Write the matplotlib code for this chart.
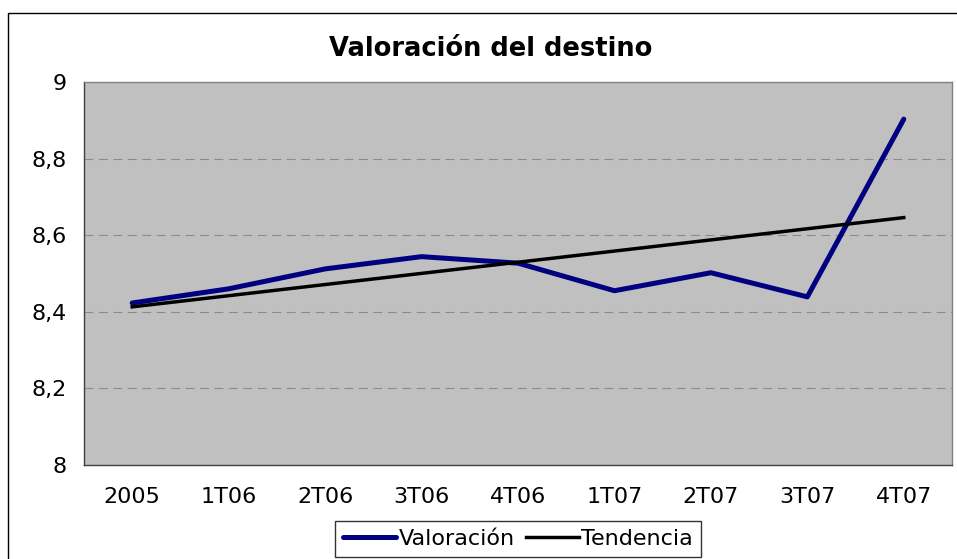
import numpy as np
import matplotlib
matplotlib.use("Agg")
import matplotlib.pyplot as plt
from matplotlib.patches import Rectangle
from matplotlib.ticker import FuncFormatter

categories = ["2005", "1T06", "2T06", "3T06", "4T06", "1T07", "2T07", "3T07", "4T07"]
valoracion = [8.423, 8.460, 8.512, 8.544, 8.527, 8.455, 8.502, 8.439, 8.903]
title = "Valoración del destino"
y_ticks = [8.0, 8.2, 8.4, 8.6, 8.8, 9.0]

W, H = 957, 559
fig = plt.figure(figsize=(W / 100, H / 100), dpi=100)
plt.rcParams['font.family'] = ['DejaVu Sans']

# outer chart border
fig.patches.append(Rectangle((8 / W, 0 - 1 / H), (W + 5) / W, (H - 13) / H + 1 / H,
                             transform=fig.transFigure, fill=False,
                             edgecolor="black", linewidth=1.0, zorder=0))

left, right, top, bottom = 84, 952, 82, 465
ax = fig.add_axes([left / W, 1 - bottom / H, (right - left) / W, (bottom - top) / H])
ax.set_facecolor("#c0c0c0")

x = np.arange(len(categories))
trend_coef = np.polyfit(x, valoracion, 1)
tendencia = np.polyval(trend_coef, x)

ax.plot(x, valoracion, color="#000080", linewidth=3.6, solid_capstyle="round",
        solid_joinstyle="round", label="Valoración", zorder=3)
ax.plot(x, tendencia, color="black", linewidth=2.5, label="Tendencia", zorder=4)

ax.set_xlim(-0.5, len(categories) - 0.5)
ax.set_ylim(8, 9)
ax.set_yticks(y_ticks)
ax.yaxis.set_major_formatter(FuncFormatter(lambda v, p: (f"{v:.1f}".rstrip("0").rstrip(".")).replace(".", ",")))
ax.set_xticks(x)
ax.set_xticklabels(categories)
ax.tick_params(axis="both", length=0, labelsize=16, colors="black")
ax.tick_params(axis="x", pad=15.5)
ax.tick_params(axis="y", pad=12.5)

for v in y_ticks[1:-1]:
    ax.axhline(v, color="#8a8a8a", linewidth=0.8, linestyle=(0, (8, 5)), zorder=1)

for s in ["top", "right"]:
    ax.spines[s].set_color("#808080")
    ax.spines[s].set_linewidth(1.0)
for s in ["left", "bottom"]:
    ax.spines[s].set_color("#404040")
    ax.spines[s].set_linewidth(1.0)

fig.text(491 / W, 1 - 49 / H, title, ha="center", va="center",
         fontsize=18.5, fontweight="bold")

leg = fig.legend(loc="center", bbox_to_anchor=(518 / W, 1 - 539 / H), ncol=2,
                 frameon=True, fancybox=False, fontsize=16, handlelength=2.4,
                 handletextpad=0.1, columnspacing=0.5, borderpad=0.35,
                 borderaxespad=0)
leg.get_frame().set_edgecolor("black")
leg.get_frame().set_linewidth(1.0)

fig.savefig("out.png", dpi=100)
